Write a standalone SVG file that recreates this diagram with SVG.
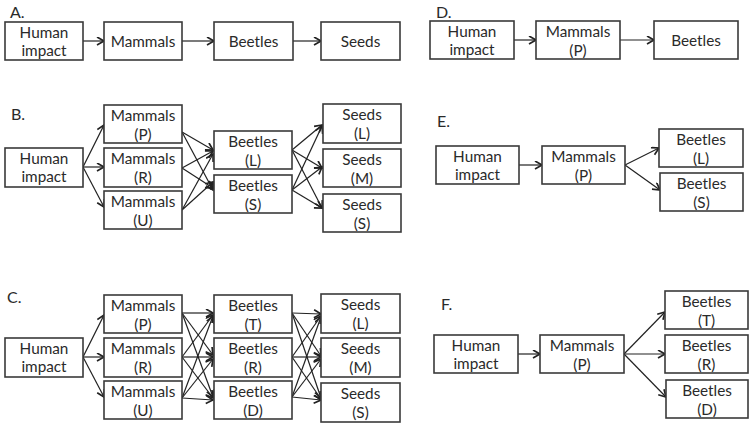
<svg xmlns="http://www.w3.org/2000/svg" width="755" height="427" viewBox="0 0 755 427">
<defs>
<style>
.box{fill:#fff;stroke:#3a3a3a;stroke-width:1.6}
.t{font-family:Lato,"Open Sans","Liberation Sans",sans-serif;font-size:15.3px;fill:#2a2a2a;text-anchor:middle}
.lbl{font-family:Lato,"Open Sans","Liberation Sans",sans-serif;font-size:16px;fill:#2a2a2a}
.c line{stroke:#222;stroke-width:1.2;marker-end:url(#ah)}
</style>
<marker id="ah" markerUnits="userSpaceOnUse" markerWidth="10" markerHeight="10" refX="8" refY="4.5" orient="auto">
<path d="M1,0.5 L8,4.5 L1,8.5" fill="none" stroke="#222" stroke-width="1.7"/>
</marker>
</defs>
<rect width="755" height="427" fill="#fff"/>

<text class="lbl" x="10" y="18">A.</text>
<text class="lbl" x="11" y="120">B.</text>
<text class="lbl" x="7" y="303">C.</text>
<text class="lbl" x="436" y="18">D.</text>
<text class="lbl" x="437" y="127">E.</text>
<text class="lbl" x="441" y="310">F.</text>

<g class="c" id="connectors">
<line x1="83" y1="41" x2="104" y2="41"/>
<line x1="182" y1="41" x2="214" y2="41"/>
<line x1="293" y1="41" x2="321" y2="41"/>

<line x1="83" y1="167" x2="104" y2="125"/>
<line x1="83" y1="167" x2="104" y2="167"/>
<line x1="83" y1="167" x2="104" y2="207"/>
<line x1="182" y1="132" x2="213" y2="150"/>
<line x1="182" y1="132" x2="213" y2="190"/>
<line x1="182" y1="168" x2="213" y2="151"/>
<line x1="182" y1="168" x2="213" y2="188"/>
<line x1="182" y1="210" x2="213" y2="154"/>
<line x1="182" y1="210" x2="213" y2="182"/>
<line x1="292" y1="150" x2="322" y2="125"/>
<line x1="292" y1="150" x2="322" y2="168"/>
<line x1="292" y1="150" x2="322" y2="208"/>
<line x1="292" y1="190" x2="322" y2="126"/>
<line x1="292" y1="190" x2="322" y2="167"/>
<line x1="292" y1="190" x2="322" y2="208"/>

<line x1="83" y1="357" x2="104" y2="315"/>
<line x1="83" y1="357" x2="104" y2="357"/>
<line x1="83" y1="357" x2="104" y2="397"/>
<line x1="182" y1="313" x2="213" y2="313"/>
<line x1="182" y1="313" x2="213" y2="355"/>
<line x1="182" y1="313" x2="213" y2="397"/>
<line x1="182" y1="357" x2="213" y2="315"/>
<line x1="182" y1="357" x2="213" y2="357"/>
<line x1="182" y1="357" x2="213" y2="398"/>
<line x1="182" y1="398" x2="213" y2="316"/>
<line x1="182" y1="398" x2="213" y2="359"/>
<line x1="182" y1="398" x2="213" y2="400"/>
<line x1="292" y1="313" x2="321" y2="314"/>
<line x1="292" y1="313" x2="321" y2="356"/>
<line x1="292" y1="313" x2="321" y2="398"/>
<line x1="292" y1="357" x2="321" y2="316"/>
<line x1="292" y1="357" x2="321" y2="357"/>
<line x1="292" y1="357" x2="321" y2="399"/>
<line x1="292" y1="397" x2="321" y2="317"/>
<line x1="292" y1="397" x2="321" y2="359"/>
<line x1="292" y1="397" x2="321" y2="400"/>

<line x1="514" y1="40" x2="536" y2="40"/>
<line x1="620" y1="40" x2="654" y2="40"/>

<line x1="519" y1="165" x2="542" y2="165"/>
<line x1="625" y1="165" x2="659" y2="148"/>
<line x1="625" y1="165" x2="660" y2="190"/>

<line x1="518" y1="354" x2="540" y2="354"/>
<line x1="624" y1="354" x2="665" y2="312"/>
<line x1="624" y1="354" x2="665" y2="354"/>
<line x1="624" y1="354" x2="666" y2="397"/>
</g>

<!-- Panel A -->
<g id="A_human"><rect class="box" x="5" y="22" width="78" height="38"/><text class="t" x="44" y="38">Human</text><text class="t" x="44" y="56">impact</text></g>
<g id="A_mammals"><rect class="box" x="104" y="22" width="78" height="38"/><text class="t" x="143" y="47">Mammals</text></g>
<g id="A_beetles"><rect class="box" x="214" y="22" width="79" height="38"/><text class="t" x="253.5" y="47">Beetles</text></g>
<g id="A_seeds"><rect class="box" x="321" y="22" width="79" height="38"/><text class="t" x="360.5" y="47">Seeds</text></g>

<!-- Panel B -->
<g id="B_human"><rect class="box" x="5" y="148" width="78" height="39"/><text class="t" x="44" y="164">Human</text><text class="t" x="44" y="182">impact</text></g>
<g id="B_mamP"><rect class="box" x="104" y="105" width="78" height="38"/><text class="t" x="143" y="121">Mammals</text><text class="t" x="143" y="140">(P)</text></g>
<g id="B_mamR"><rect class="box" x="104" y="148" width="78" height="39"/><text class="t" x="143" y="164">Mammals</text><text class="t" x="143" y="183">(R)</text></g>
<g id="B_mamU"><rect class="box" x="104" y="191" width="78" height="38"/><text class="t" x="143" y="207">Mammals</text><text class="t" x="143" y="226">(U)</text></g>
<g id="B_beeL"><rect class="box" x="214" y="131" width="78" height="38"/><text class="t" x="253" y="147">Beetles</text><text class="t" x="253" y="166">(L)</text></g>
<g id="B_beeS"><rect class="box" x="214" y="175" width="78" height="38"/><text class="t" x="253" y="191">Beetles</text><text class="t" x="253" y="210">(S)</text></g>
<g id="B_seedL"><rect class="box" x="323" y="104" width="78" height="39"/><text class="t" x="362" y="120">Seeds</text><text class="t" x="362" y="139">(L)</text></g>
<g id="B_seedM"><rect class="box" x="323" y="149" width="78" height="38"/><text class="t" x="362" y="165">Seeds</text><text class="t" x="362" y="184">(M)</text></g>
<g id="B_seedS"><rect class="box" x="323" y="194" width="78" height="38"/><text class="t" x="362" y="210">Seeds</text><text class="t" x="362" y="229">(S)</text></g>

<!-- Panel C -->
<g id="C_human"><rect class="box" x="5" y="338" width="78" height="39"/><text class="t" x="44" y="354">Human</text><text class="t" x="44" y="372">impact</text></g>
<g id="C_mamP"><rect class="box" x="104" y="295" width="78" height="38"/><text class="t" x="143" y="311">Mammals</text><text class="t" x="143" y="330">(P)</text></g>
<g id="C_mamR"><rect class="box" x="104" y="338" width="78" height="39"/><text class="t" x="143" y="354">Mammals</text><text class="t" x="143" y="373">(R)</text></g>
<g id="C_mamU"><rect class="box" x="104" y="381" width="78" height="38"/><text class="t" x="143" y="397">Mammals</text><text class="t" x="143" y="416">(U)</text></g>
<g id="C_beeT"><rect class="box" x="214" y="295" width="78" height="38"/><text class="t" x="253" y="311">Beetles</text><text class="t" x="253" y="330">(T)</text></g>
<g id="C_beeR"><rect class="box" x="214" y="338" width="78" height="39"/><text class="t" x="253" y="354">Beetles</text><text class="t" x="253" y="373">(R)</text></g>
<g id="C_beeD"><rect class="box" x="214" y="381" width="78" height="38"/><text class="t" x="253" y="397">Beetles</text><text class="t" x="253" y="416">(D)</text></g>
<g id="C_seedL"><rect class="box" x="321" y="294" width="79" height="39"/><text class="t" x="360.5" y="310">Seeds</text><text class="t" x="360.5" y="329">(L)</text></g>
<g id="C_seedM"><rect class="box" x="321" y="338" width="79" height="39"/><text class="t" x="360.5" y="354">Seeds</text><text class="t" x="360.5" y="373">(M)</text></g>
<g id="C_seedS"><rect class="box" x="321" y="383" width="79" height="39"/><text class="t" x="360.5" y="399">Seeds</text><text class="t" x="360.5" y="418">(S)</text></g>

<!-- Panel D -->
<g id="D_human"><rect class="box" x="430" y="21" width="84" height="38"/><text class="t" x="472" y="37">Human</text><text class="t" x="472" y="55">impact</text></g>
<g id="D_mamP"><rect class="box" x="536" y="21" width="84" height="38"/><text class="t" x="578" y="37">Mammals</text><text class="t" x="578" y="56">(P)</text></g>
<g id="D_beetles"><rect class="box" x="654" y="21" width="84" height="38"/><text class="t" x="696" y="46">Beetles</text></g>

<!-- Panel E -->
<g id="E_human"><rect class="box" x="436" y="146" width="83" height="38"/><text class="t" x="477.5" y="162">Human</text><text class="t" x="477.5" y="180">impact</text></g>
<g id="E_mamP"><rect class="box" x="542" y="146" width="83" height="38"/><text class="t" x="583.5" y="162">Mammals</text><text class="t" x="583.5" y="181">(P)</text></g>
<g id="E_beeL"><rect class="box" x="659" y="129" width="84" height="38"/><text class="t" x="701" y="145">Beetles</text><text class="t" x="701" y="164">(L)</text></g>
<g id="E_beeS"><rect class="box" x="660" y="173" width="83" height="38"/><text class="t" x="701.5" y="189">Beetles</text><text class="t" x="701.5" y="208">(S)</text></g>

<!-- Panel F -->
<g id="F_human"><rect class="box" x="434" y="335" width="84" height="38"/><text class="t" x="476" y="351">Human</text><text class="t" x="476" y="369">impact</text></g>
<g id="F_mamP"><rect class="box" x="540" y="335" width="84" height="38"/><text class="t" x="582" y="351">Mammals</text><text class="t" x="582" y="370">(P)</text></g>
<g id="F_beeT"><rect class="box" x="665" y="291" width="83" height="38"/><text class="t" x="706.5" y="307">Beetles</text><text class="t" x="706.5" y="326">(T)</text></g>
<g id="F_beeR"><rect class="box" x="665" y="335" width="83" height="38"/><text class="t" x="706.5" y="351">Beetles</text><text class="t" x="706.5" y="370">(R)</text></g>
<g id="F_beeD"><rect class="box" x="666" y="380" width="82" height="38"/><text class="t" x="707" y="396">Beetles</text><text class="t" x="707" y="415">(D)</text></g>
</svg>
